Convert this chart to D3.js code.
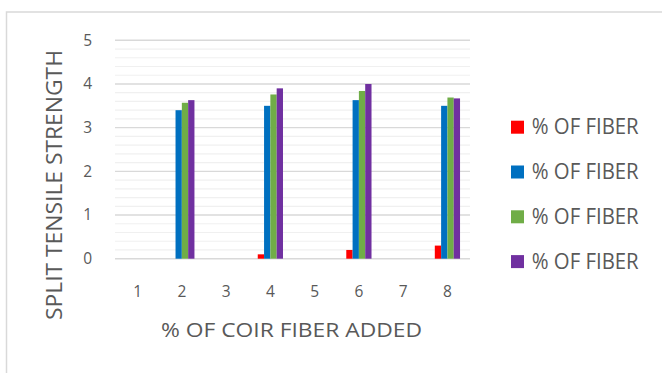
<!DOCTYPE html>
<html>
<head>
<meta charset="utf-8">
<script src="https://cdn.jsdelivr.net/npm/d3@7"></script>
<style>
  html, body { margin: 0; padding: 0; background: #ffffff; }
  svg { display: block; }
  text { font-family: "Open Sans", "Noto Sans", sans-serif; fill: #595959; }
</style>
</head>
<body>
<svg id="chart" width="662" height="373"></svg>
<script>
// Split tensile strength by % of coir fiber added
const categories = ["1", "2", "3", "4", "5", "6", "7", "8"];
const seriesNames = ["% OF FIBER", "% OF FIBER", "% OF FIBER", "% OF FIBER"];
const seriesColors = ["#FF0000", "#0070C0", "#70AD47", "#7030A0"];
const redValues    = [null, 0,    null, 0.1,  null, 0.2,  null, 0.3];
const blueValues   = [null, 3.4,  null, 3.5,  null, 3.63, null, 3.5];
const greenValues  = [null, 3.57, null, 3.76, null, 3.84, null, 3.69];
const purpleValues = [null, 3.63, null, 3.9,  null, 4.0,  null, 3.67];
const yTicks = [0, 1, 2, 3, 4, 5];
const yTitle = "SPLIT TENSILE STRENGTH";
const xTitle = "% OF COIR FIBER ADDED";

const seriesValues = [redValues, blueValues, greenValues, purpleValues];

const svg = d3.select("#chart");

// chart area frame (runs off the right and bottom edges)
svg.append("rect")
  .attr("x", 6.5).attr("y", 12)
  .attr("width", 700).attr("height", 400)
  .attr("fill", "#ffffff")
  .attr("stroke", "#d9d9d9").attr("stroke-width", 1.5);

const plot = { left: 115, right: 470, top: 40.3, bottom: 258.7 };

const y = d3.scaleLinear().domain([0, 5]).range([plot.bottom, plot.top]);
const x0 = d3.scaleBand().domain(categories)
  .range([plot.left, plot.right])
  .paddingInner(0.43).paddingOuter(0.225);
const x1 = d3.scaleBand().domain(d3.range(seriesNames.length))
  .range([0, x0.bandwidth()]);

// minor gridlines every 0.2
const minor = d3.range(0, 5.0001, 0.2).filter(v => Math.abs(v - Math.round(v)) > 1e-6);
svg.append("g").selectAll("line").data(minor).join("line")
  .attr("x1", plot.left).attr("x2", plot.right)
  .attr("y1", d => y(d)).attr("y2", d => y(d))
  .attr("stroke", "#f0f0f0").attr("stroke-width", 1.2);

// major gridlines
svg.append("g").selectAll("line").data(yTicks).join("line")
  .attr("x1", plot.left).attr("x2", plot.right)
  .attr("y1", d => y(d)).attr("y2", d => y(d))
  .attr("stroke", "#d9d9d9").attr("stroke-width", 1.4);

// y axis labels
const yAxis = d3.axisLeft(y).tickValues(yTicks).tickSize(0).tickPadding(0).tickFormat(d3.format("d"));
const yg = svg.append("g").attr("transform", "translate(92,0)").call(yAxis);
yg.select(".domain").remove();
yg.selectAll("text").attr("font-size", 15.5).style("font-family", '"Open Sans", sans-serif').attr("fill", "#595959");

// x axis labels
const xAxis = d3.axisBottom(x0).tickSize(0).tickPadding(0);
const xg = svg.append("g").attr("transform", "translate(0,286)").call(xAxis);
xg.select(".domain").remove();
xg.selectAll("text").attr("font-size", 15.5).style("font-family", '"Open Sans", sans-serif').attr("fill", "#595959").attr("dy", "0.71em");

// bars
const groups = svg.append("g").selectAll("g").data(categories).join("g")
  .attr("transform", d => `translate(${x0(d)},0)`);
groups.selectAll("rect")
  .data((c, i) => seriesValues.map((vals, s) => ({ s, v: vals[i] })).filter(d => d.v != null && d.v > 0))
  .join("rect")
  .attr("x", d => x1(d.s))
  .attr("width", x1.bandwidth())
  .attr("y", d => y(d.v))
  .attr("height", d => y(0) - y(d.v))
  .attr("fill", d => seriesColors[d.s]);

// axis titles
svg.append("text")
  .attr("transform", "translate(62,185) rotate(-90)")
  .attr("text-anchor", "middle")
  .attr("font-size", 21)
  .attr("textLength", 270).attr("lengthAdjust", "spacingAndGlyphs")
  .text(yTitle);

svg.append("text")
  .attr("x", (plot.left + plot.right) / 2 - 1).attr("y", 337)
  .attr("text-anchor", "middle")
  .attr("font-size", 20)
  .attr("textLength", 261).attr("lengthAdjust", "spacingAndGlyphs")
  .text(xTitle);

// legend
const legend = svg.append("g").selectAll("g").data(seriesNames).join("g")
  .attr("transform", (d, i) => `translate(511,${127.2 + i * 44.8})`);
legend.append("rect")
  .attr("x", 0).attr("y", -6.5).attr("width", 13).attr("height", 13)
  .attr("fill", (d, i) => seriesColors[i]);
legend.append("text")
  .attr("x", 20.7).attr("y", 7.2)
  .attr("font-size", 21)
  .attr("textLength", 107).attr("lengthAdjust", "spacingAndGlyphs")
  .text(d => d);
</script>
</body>
</html>
